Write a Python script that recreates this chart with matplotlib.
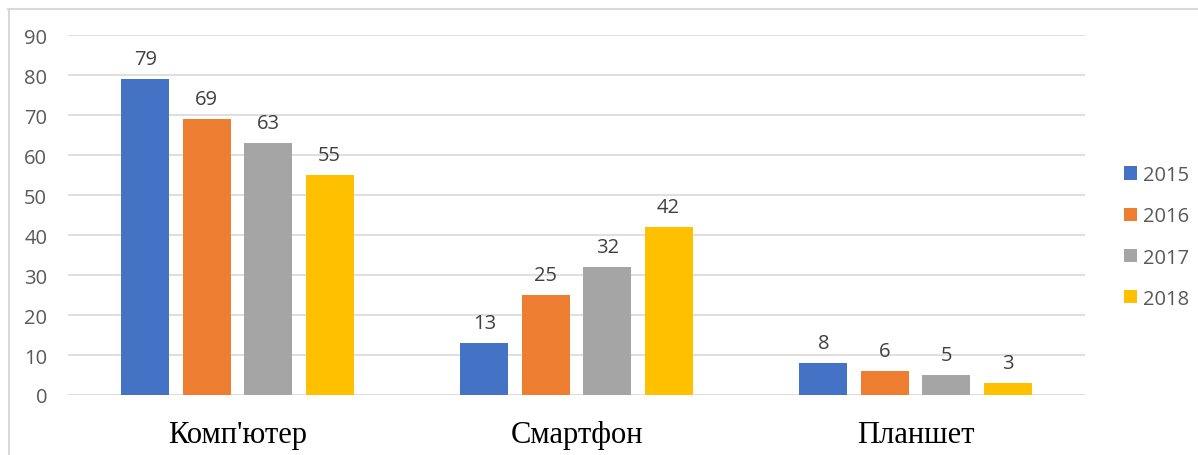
import matplotlib.pyplot as plt
import numpy as np
from matplotlib.lines import Line2D

categories = ["Комп'ютер", "Смартфон", "Планшет"]
years = ["2015", "2016", "2017", "2018"]
values = {
    "2015": [79, 13, 8],
    "2016": [69, 25, 6],
    "2017": [63, 32, 5],
    "2018": [55, 42, 3],
}
colors = ["#4472C4", "#ED7D31", "#A5A5A5", "#FFC000"]

fig = plt.figure(figsize=(11.98, 4.56), dpi=100)
ax = fig.add_axes([68 / 1198, 60 / 456, 1017 / 1198, 360 / 456])

x = np.arange(len(categories))
pitch = 0.181
width = 0.1416
for i, yr in enumerate(years):
    pos = x + (i - 1.5) * pitch
    bars = ax.bar(pos, values[yr], width, color=colors[i], label=yr, zorder=3)
    for b, v in zip(bars, values[yr]):
        ax.annotate(str(v), (b.get_x() + b.get_width() / 2, v),
                    xytext=(0, 14.5), textcoords="offset points",
                    ha="center", va="center", fontsize=14.5,
                    color="#404040", family="Open Sans")

ax.set_xlim(-0.5, 2.5)
ax.set_ylim(0, 90)
ax.set_yticks(range(0, 91, 10))
ax.grid(axis="y", color="#D9D9D9", linewidth=1.2, zorder=0)
for s in ax.spines.values():
    s.set_visible(False)
ax.tick_params(axis="both", length=0)
ax.tick_params(axis="y", pad=15, labelcolor="#595959")
for t in ax.get_yticklabels():
    t.set_fontsize(14.5)
    t.set_family("Open Sans")

ax.set_xticks(x)
ax.set_xticklabels(categories, fontsize=22, family="Liberation Serif", color="black")
ax.tick_params(axis="x", pad=18)

leg = fig.legend(loc="center left", bbox_to_anchor=(1114 / 1198, 218 / 456),
                 frameon=False, prop={"family": "Open Sans", "size": 14.5},
                 handlelength=0.65, handleheight=0.65, handletextpad=0.3,
                 labelspacing=1.05, borderpad=0)
for t in leg.get_texts():
    t.set_color("#595959")

# thin frame on top and left edge
fig.add_artist(Line2D([8 / 1198, 1198 / 1198], [1 - 9.5 / 456, 1 - 9.5 / 456],
                      color="#D9D9D9", linewidth=1.5, transform=fig.transFigure))
fig.add_artist(Line2D([8.5 / 1198, 8.5 / 1198], [0, 1 - 9.5 / 456],
                      color="#D9D9D9", linewidth=1.5, transform=fig.transFigure))

fig.savefig("out.png", dpi=100)
